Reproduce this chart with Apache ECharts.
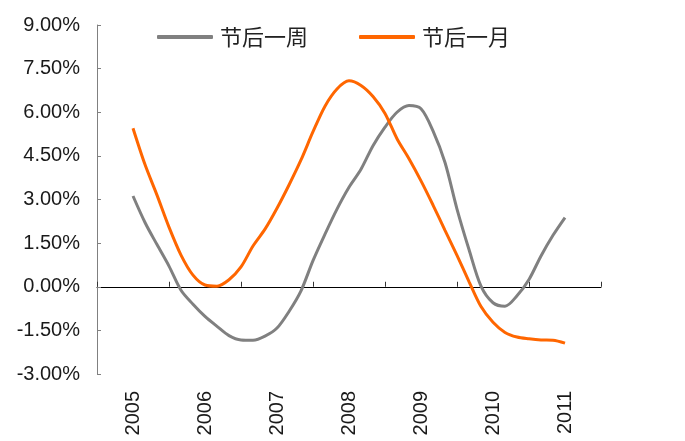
<!DOCTYPE html>
<html>
<head>
<meta charset="utf-8">
<script src="https://cdn.jsdelivr.net/npm/echarts@6/dist/echarts.min.js"></script>
<style>
  html, body { margin: 0; padding: 0; background: #fff; }
  #chart { width: 685px; height: 441px; }
</style>
</head>
<body>
<div id="chart"></div>
<script>
// Year labels along the bottom
const years = ['2005', '2006', '2007', '2008', '2009', '2010', '2011'];

// Y-axis range (%), ticks every 1.5
const yMin = -3, yMax = 9, yStep = 1.5;

// Average return after the holiday (%), sampled every two months from mid-2005 to mid-2011
const weekAfter = [
  3.12, 2.21, 1.45, 0.71, -0.12, -0.60, -1.02, -1.36, -1.68, -1.83, -1.84, -1.70, -1.42,
  -0.85, -0.14, 0.90, 1.81, 2.67, 3.42, 4.04, 4.85, 5.49, 6.00, 6.23, 6.12, 5.36,
  4.27, 2.67, 1.28, 0.02, -0.55, -0.67, -0.31, 0.25, 1.06, 1.77, 2.38
];
const monthAfter = [
  5.45, 4.20, 3.15, 2.05, 1.09, 0.40, 0.06, 0.02, 0.24, 0.68, 1.40, 1.98, 2.70,
  3.50, 4.36, 5.33, 6.21, 6.80, 7.08, 6.92, 6.54, 5.96, 5.09, 4.40, 3.64, 2.81,
  1.94, 1.08, 0.18, -0.68, -1.22, -1.57, -1.73, -1.79, -1.83, -1.84, -1.94
];
const seriesNames = ['节后一周', '节后一月'];

// Samples sit two months apart, starting at the middle of the first year (month 6)
const stepMonths = 2;
const firstMonth = 6;
const toPairs = arr => arr.map((v, i) => [firstMonth + i * stepMonths, v]);

const chart = echarts.init(document.getElementById('chart'));
const labelFont = { fontFamily: 'Liberation Sans, Arial, sans-serif', fontSize: 20, color: '#1a1a1a' };

chart.setOption({
  animation: false,
  backgroundColor: '#ffffff',
  grid: { left: 97, right: 84, top: 25, bottom: 67, containLabel: false, outerBoundsMode: 'none' },
  legend: {
    left: 157,
    top: 26,
    padding: 0,
    icon: 'roundRect',
    itemWidth: 56,
    itemHeight: 4,
    itemGap: 51,
    textStyle: { fontFamily: 'Noto Sans CJK SC', fontSize: 22, color: '#222', padding: [0, 0, 0, 2] },
    data: seriesNames
  },
  xAxis: [
    {
      // month scale used to place the samples; drawn as the zero line with year ticks
      type: 'value',
      min: 0,
      max: years.length * 12,
      interval: 12,
      axisLine: { show: true, onZero: true, lineStyle: { color: '#000', width: 1 } },
      axisTick: { show: true, inside: true, length: 5, lineStyle: { color: '#333' } },
      axisLabel: { show: false },
      splitLine: { show: false }
    },
    {
      type: 'category',
      position: 'bottom',
      data: years,
      boundaryGap: true,
      axisLine: { show: false, onZero: false },
      axisTick: { show: false },
      axisLabel: Object.assign({ rotate: 90, margin: 17, interval: 0 }, labelFont),
      splitLine: { show: false }
    }
  ],
  yAxis: {
    type: 'value',
    min: yMin,
    max: yMax,
    interval: yStep,
    axisLine: { show: true, lineStyle: { color: '#808080', width: 1 } },
    axisTick: { show: true, inside: true, length: 4, lineStyle: { color: '#808080' } },
    axisLabel: Object.assign({ margin: 17, formatter: v => v.toFixed(2) + '%' }, labelFont),
    splitLine: { show: false }
  },
  series: [
    {
      name: seriesNames[0],
      type: 'line',
      xAxisIndex: 0,
      data: toPairs(weekAfter),
      symbol: 'none',
      smooth: 0.3,
      lineStyle: { color: '#808080', width: 3 },
      itemStyle: { color: '#808080' }
    },
    {
      name: seriesNames[1],
      type: 'line',
      xAxisIndex: 0,
      data: toPairs(monthAfter),
      symbol: 'none',
      smooth: 0.3,
      lineStyle: { color: '#FF6600', width: 3 },
      itemStyle: { color: '#FF6600' }
    }
  ]
});
</script>
</body>
</html>
